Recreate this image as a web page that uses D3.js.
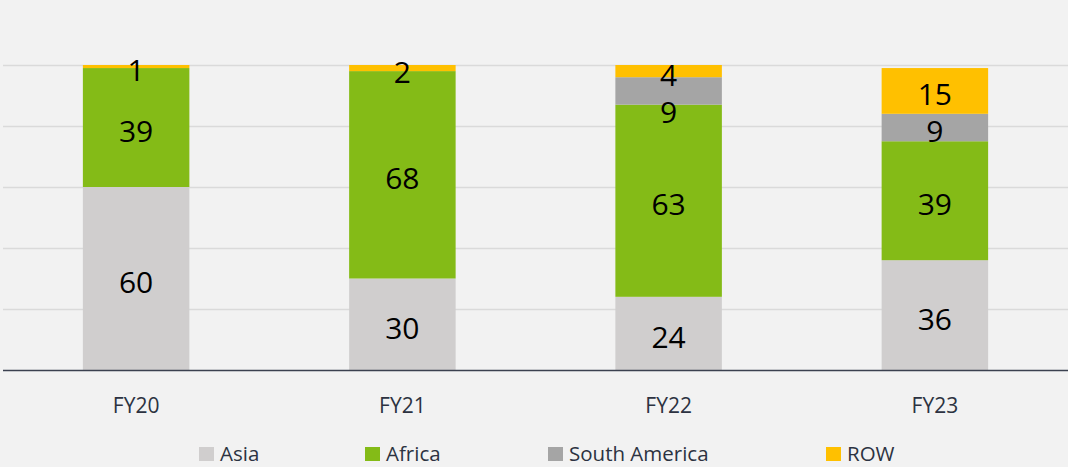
<!DOCTYPE html>
<html>
<head>
<meta charset="utf-8">
<script src="https://cdn.jsdelivr.net/npm/d3@7"></script>
<style>
    body { margin: 0; background: #f2f2f2; }
    svg { display: block; font-family: "Open Sans", "Noto Sans", sans-serif; }
</style>
</head>
<body>
<script>
// Data
const years = ["FY20", "FY21", "FY22", "FY23"];
const regions = ["Asia", "Africa", "South America", "ROW"];
const asia = [60, 30, 24, 36];
const africa = [39, 68, 63, 39];
const southAmerica = [0, 0, 9, 9];
const row = [1, 2, 4, 15];
const gridTicks = [20, 40, 60, 80, 100];

const colors = {
    "Asia": "#d0cece",
    "Africa": "#84bb17",
    "South America": "#a5a5a5",
    "ROW": "#ffc000"
};

const table = years.map((y, i) => ({
    year: y,
    "Asia": asia[i],
    "Africa": africa[i],
    "South America": southAmerica[i],
    "ROW": row[i]
}));

const width = 1068;
const height = 467;

const svg = d3.select("body").append("svg")
    .attr("width", width)
    .attr("height", height);

const x = d3.scaleBand()
    .domain(years)
    .range([3, 1068])
    .paddingInner(0.6)
    .paddingOuter(0.3);

const y = d3.scaleLinear()
    .domain([0, 100])
    .range([370, 65]);

// Grid
svg.append("g")
    .selectAll("line")
    .data(gridTicks)
    .join("line")
    .attr("x1", 3)
    .attr("x2", width)
    .attr("y1", d => Math.round(y(d)) + 0.5)
    .attr("y2", d => Math.round(y(d)) + 0.5)
    .attr("stroke", "#dadada")
    .attr("stroke-width", 1.5);

// Stack
const series = d3.stack().keys(regions)(table);

const groups = svg.append("g")
    .selectAll("g")
    .data(series)
    .join("g")
    .attr("fill", d => colors[d.key]);

groups.selectAll("rect")
    .data(d => d)
    .join("rect")
    .attr("x", d => x(d.data.year))
    .attr("width", x.bandwidth())
    .attr("y", d => y(d[1]))
    .attr("height", d => y(d[0]) - y(d[1]));

// Labels: centred in segment, pushed down when they collide with the one above
const labels = [];
years.forEach((yr, i) => {
    let prev = -Infinity;
    for (let k = series.length - 1; k >= 0; k--) {
        const seg = series[k][i];
        const v = seg[1] - seg[0];
        if (v <= 0) continue;
        let cy = (y(seg[0]) + y(seg[1])) / 2 + 3;
        if (cy - prev < 37) cy = prev + 37;
        prev = cy;
        labels.push({ year: yr, value: v, cy: cy });
    }
});

svg.append("g")
    .selectAll("text")
    .data(labels)
    .join("text")
    .attr("x", d => x(d.year) + x.bandwidth() / 2)
    .attr("y", d => d.cy)
    .attr("text-anchor", "middle")
    .attr("dominant-baseline", "central")
    .attr("fill", "#000")
    .style("font-size", "30px")
    .text(d => d.value);

// Baseline
svg.append("line")
    .attr("x1", 3)
    .attr("x2", width)
    .attr("y1", 370.5)
    .attr("y2", 370.5)
    .attr("stroke", "#3b4150")
    .attr("stroke-width", 1.5);

// X axis labels
svg.append("g")
    .selectAll("text")
    .data(years)
    .join("text")
    .attr("x", d => x(d) + x.bandwidth() / 2)
    .attr("y", 413)
    .attr("text-anchor", "middle")
    .attr("fill", "#2c3241")
    .style("font-size", "21px")
    .text(d => d);

// Legend
const legendX = [199, 365, 548, 826];
const legend = svg.append("g")
    .selectAll("g")
    .data(regions)
    .join("g")
    .attr("transform", (d, i) => `translate(${legendX[i]}, 447)`);

legend.append("rect")
    .attr("width", 15)
    .attr("height", 14)
    .attr("fill", d => colors[d]);

legend.append("text")
    .attr("x", 21)
    .attr("y", 14)
    .attr("fill", "#2c3241")
    .style("font-size", "20.5px")
    .text(d => d);
</script>
</body>
</html>
